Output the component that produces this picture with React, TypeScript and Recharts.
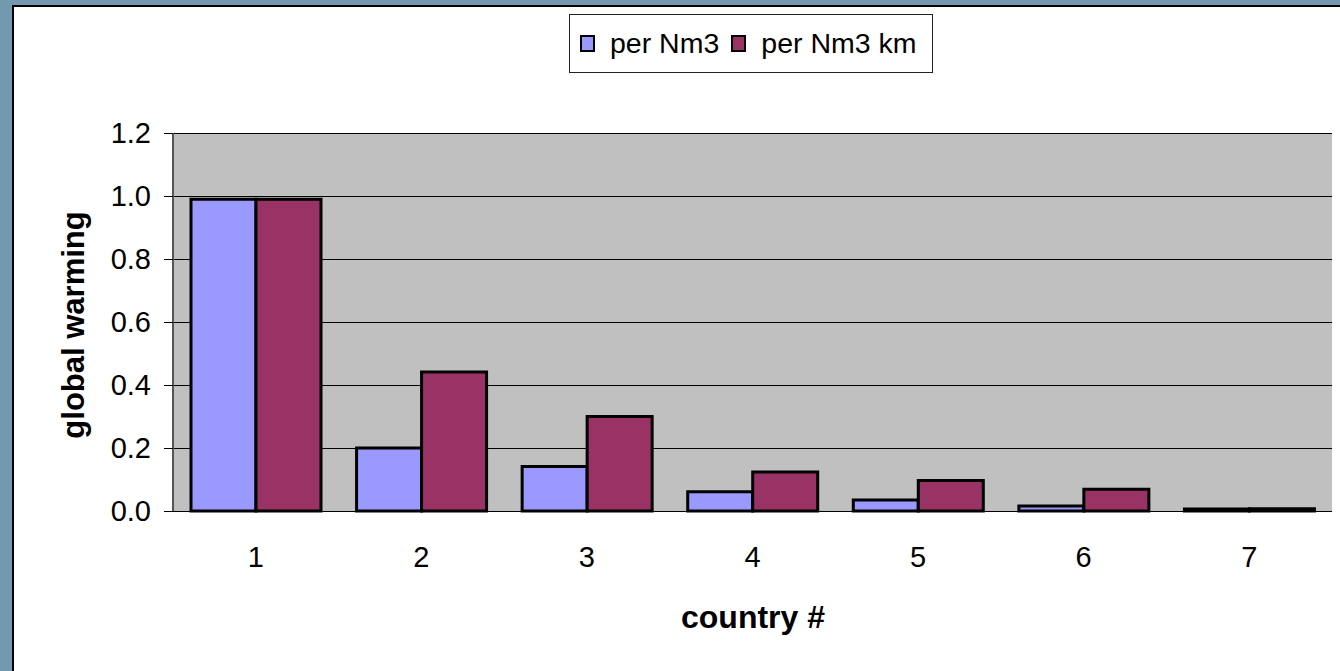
import {
  BarChart,
  Bar,
  XAxis,
  YAxis,
  CartesianGrid,
  Legend,
  Label
} from 'recharts'

const countries = ['1', '2', '3', '4', '5', '6', '7']
const perNm3 = [0.99, 0.2, 0.141, 0.061, 0.035, 0.016, 0.006]
const perNm3Km = [0.99, 0.441, 0.3, 0.124, 0.097, 0.069, 0.007]
const yTicks = [0, 0.2, 0.4, 0.6, 0.8, 1.0, 1.2]
const boundaryTicks = [0.5, 1.5, 2.5, 3.5, 4.5, 5.5, 6.5, 7.5]

const BLUE = '#9999ff'
const PLUM = '#993366'
const FONT = 'Arial, "Liberation Sans", sans-serif'

const data = countries.map((c, i) => ({
  country: c,
  pos: i + 1,
  a: perNm3[i],
  b: perNm3Km[i]
}))

function LegendBox() {
  const item = (color: string, text: string) => (
    <span style={{ display: 'inline-flex', alignItems: 'center', marginRight: 12 }}>
      <span
        style={{
          display: 'inline-block',
          width: 11,
          height: 13,
          background: color,
          border: '2px solid #000',
          marginRight: 15
        }}
      />
      <span>{text}</span>
    </span>
  )
  return (
    <div
      style={{
        boxSizing: 'border-box',
        width: 364,
        height: 59,
        border: '1px solid #222',
        background: '#fff',
        display: 'flex',
        alignItems: 'center',
        paddingLeft: 10,
        fontFamily: FONT,
        fontSize: 28.5,
        color: '#000',
        whiteSpace: 'nowrap'
      }}
    >
      {item(BLUE, 'per Nm3')}
      {item(PLUM, 'per Nm3 km')}
    </div>
  )
}

export default function App() {
  return (
    <div style={{ position: 'fixed', left: 0, top: 0, width: 1340, height: 671, background: '#7399ae', overflow: 'hidden' }}>
      <style>{'.recharts-cartesian-grid line, .recharts-cartesian-axis-tick-line, .recharts-cartesian-axis-line { shape-rendering: crispEdges; }'}</style>
      <div
        style={{
          position: 'absolute',
          left: 12,
          top: 5,
          width: 1340,
          height: 680,
          background: '#fff',
          borderLeft: '2px solid #000',
          borderTop: '2px solid #000'
        }}
      />
      <div style={{ position: 'absolute', left: 0, top: 0 }}>
        <BarChart
          width={1340}
          height={671}
          data={data}
          margin={{ top: 133, right: 8, bottom: 60, left: 0 }}
          barCategoryGap={18}
          barGap={0}
        >
          <CartesianGrid vertical={false} stroke="#000" fill="#c0c0c0" fillOpacity={1} />
          <XAxis
            xAxisId="bounds"
            dataKey="pos"
            type="number"
            domain={[0.5, 7.5]}
            ticks={boundaryTicks}
            tick={false}
            tickSize={8}
            axisLine={{ stroke: '#000' }}
            tickLine={{ stroke: '#000' }}
            height={0}
          />
          <XAxis
            dataKey="country"
            tickSize={0}
            tickMargin={35}
            axisLine={false}
            height={100}
            tick={{ fill: '#000', fontSize: 29, fontFamily: FONT }}
          >
            <Label
              content={() => (
                <text x={753} y={617} textAnchor="middle" dominantBaseline="central" fontFamily={FONT} fontSize={32} fontWeight="bold" fill="#000">
                  country #
                </text>
              )}
            />
          </XAxis>
          <XAxis xAxisId="top" dataKey="country" orientation="top" height={0} tick={false} tickLine={false} axisLine={{ stroke: '#808080', strokeWidth: 2 }} />
          <YAxis
            domain={[0, 1.2]}
            ticks={yTicks}
            tickFormatter={(v: number) => v.toFixed(1)}
            width={173}
            tickSize={9}
            tickMargin={13}
            axisLine={{ stroke: '#555', strokeWidth: 2 }}
            tickLine={{ stroke: '#000' }}
            tick={{ fill: '#000', fontSize: 29, fontFamily: FONT }}
          >
            <Label
              content={() => (
                <text x={73} y={325} transform="rotate(-90 73 325)" textAnchor="middle" dominantBaseline="central" fontFamily={FONT} fontSize={31} fontWeight="bold" fill="#000">
                  global warming
                </text>
              )}
            />
          </YAxis>
          <YAxis yAxisId="right" orientation="right" width={0} tick={false} tickLine={false} axisLine={{ stroke: '#808080', strokeWidth: 2 }} />
          <Legend
            layout="horizontal"
            verticalAlign="middle"
            align="center"
            wrapperStyle={{ top: 14, left: 569, width: 364, height: 59 }}
            content={() => <LegendBox />}
          />
          <Bar dataKey="a" name="per Nm3" fill={BLUE} stroke="#000" strokeWidth={3} isAnimationActive={false} />
          <Bar dataKey="b" name="per Nm3 km" fill={PLUM} stroke="#000" strokeWidth={3} isAnimationActive={false} />
        </BarChart>
      </div>
    </div>
  )
}
